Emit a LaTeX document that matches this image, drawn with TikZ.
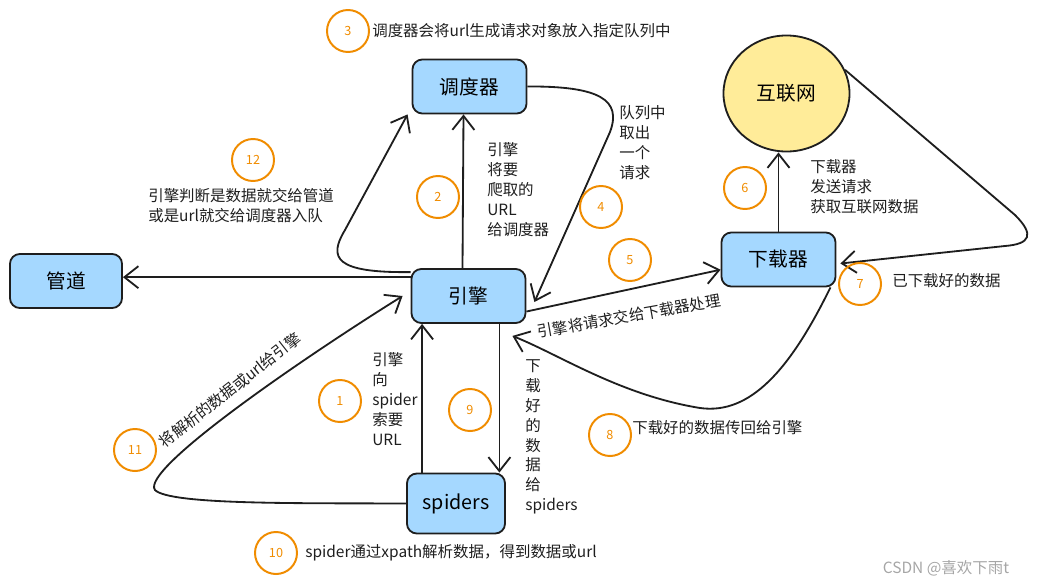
\documentclass[tikz,border=0pt]{standalone}
\usepackage{fontspec}
\setmainfont{Noto Sans CJK SC}
\usetikzlibrary{arrows.meta,shapes.geometric}

\definecolor{boxblue}{HTML}{A5D8FF}
\definecolor{netyellow}{HTML}{FFEC99}
\definecolor{markorange}{HTML}{F08C00}
\definecolor{inkblack}{HTML}{1E1E1E}

\begin{document}
\begin{tikzpicture}[
    x=0.025cm, y=-0.025cm,
    module/.style={rectangle, rounded corners=7pt, draw=inkblack, line width=1.3pt, fill=boxblue,
        minimum width=#1, minimum height=1.35cm, font=\fontsize{14}{16}\selectfont},
    module/.default=2.85cm,
    net node/.style={ellipse, draw=inkblack, line width=1.3pt, fill=netyellow,
        minimum width=3.15cm, minimum height=2.9cm, font=\fontsize{14}{16}\selectfont},
    badge/.style={circle, draw=markorange, line width=1.4pt, minimum size=1.05cm,
        text=markorange, font=\fontsize{9}{10}\selectfont},
    note/.style={font=\fontsize{11}{14.2}\selectfont, align=left, inner sep=0pt, text=inkblack},
    flow/.style={draw=inkblack, line width=1.3pt, -{Straight Barb[length=3.5mm, width=5.5mm]}}
]
\useasboundingbox (0,0) rectangle (1038,586);

% Boxes
\node[module] (sched) at (469.5,86.5) {调度器};
\node[module] (engine) at (468.5,296) {引擎};
\node[module=2.8cm] (pipe) at (66,281) {管道};
\node[module] (down) at (778.5,259.5) {下载器};
\node[module=2.45cm, minimum height=1.5cm] (spiders) at (456,503.5) {spiders};
\node[net node] (net) at (786.5,93.5) {互联网};

% Connections
\coordinate (s1) at ([xshift=0.4cm]spiders.north west);
\draw[flow] (s1) -- (s1 |- engine.south);
\draw[flow] ([xshift=-0.15cm]engine.north) -- ([xshift=-0.15cm]sched.south);
\draw[flow] (sched.east) .. controls (600,86) and (622,100) .. (610,132) -- ([xshift=0.2cm,yshift=-0.15cm]engine.east);
\draw[flow] (engine.-15) -- (down.190);
\draw[flow] (down.north) -- (down.north |- net.south);
\draw[flow] (net.22) -- (1015,215) .. controls (1035,235) and (1030,244) .. (1005,246) -- ([xshift=0.1cm,yshift=-0.1cm]down.east);
\draw[flow] ([xshift=-0.15cm]down.south east) .. controls (790,370) and (750,415) .. (700,408) .. controls (620,395) and (560,355) .. ([xshift=-0.35cm,yshift=-0.3cm]engine.south east);
\coordinate (e9) at ([xshift=-0.675cm]engine.south east);
\draw[flow] (e9) -- (e9 |- spiders.north);
\draw[flow] (spiders.west) .. controls (300,503) and (170,505) .. (155,490) .. controls (140,470) and (300,360) .. ([xshift=-0.2cm]engine.west);
\draw[flow] ([yshift=-0.1cm]engine.north west) .. controls (335,273) and (328,258) .. (345,230) -- ([xshift=-0.1cm]sched.south west);
\draw[flow] (engine.162) -- (engine.162 -| pipe.east);

% Step numbers
\node[badge] (b1) at (340,401) {1};
\node[badge] (b2) at (438,197) {2};
\node[badge] (b3) at (348,31) {3};
\node[badge] (b4) at (601,207) {4};
\node[badge] (b5) at (630,260) {5};
\node[badge] (b6) at (745,188) {6};
\node[badge] (b7) at (860,284) {7};
\node[badge] (b8) at (610,435) {8};
\node[badge] (b9) at (470,410) {9};
\node[badge] (b10) at (276,553) {10};
\node[badge] (b11) at (135,450) {11};
\node[badge] (b12) at (253,160) {12};

% Notes
\node[note, anchor=west] (t3) at (372,31) {调度器会将url生成请求对象放入指定队列中};
\node[note, anchor=north west] (t12) at (148,188) {引擎判断是数据就交给管道\\或是url就交给调度器入队};
\node[note, anchor=north west] (t2) at (487,142) {引擎\\将要\\爬取的\\URL\\给调度器};
\node[note, anchor=north west] (t4) at (619,105) {队列中\\取出\\一个\\请求};
\node[note, anchor=north west] (t6) at (810,159) {下载器\\发送请求\\获取互联网数据};
\node[note, anchor=west] (t7) at (892,281) {已下载好的数据};
\node[note, rotate=10] (t5) at (629,316) {引擎将请求交给下载器处理};
\node[note, rotate=38] (t11) at (230,390) {将解析的数据或url给引擎};
\node[note, anchor=north west] (t1) at (372,352) {引擎\\向\\spider\\索要\\URL};
\node[note, anchor=north west] (t9) at (525,359) {下\\载\\好\\的\\数\\据\\给\\spiders};
\node[note, anchor=west] (t8) at (632,428) {下载好的数据传回给引擎};
\node[note, anchor=west] (t10) at (305,553) {spider通过xpath解析数据，得到数据或url};

% Watermark
\node[note, text=gray!70] (mark) at (946,568) {CSDN @喜欢下雨t};

\end{tikzpicture}
\end{document}
